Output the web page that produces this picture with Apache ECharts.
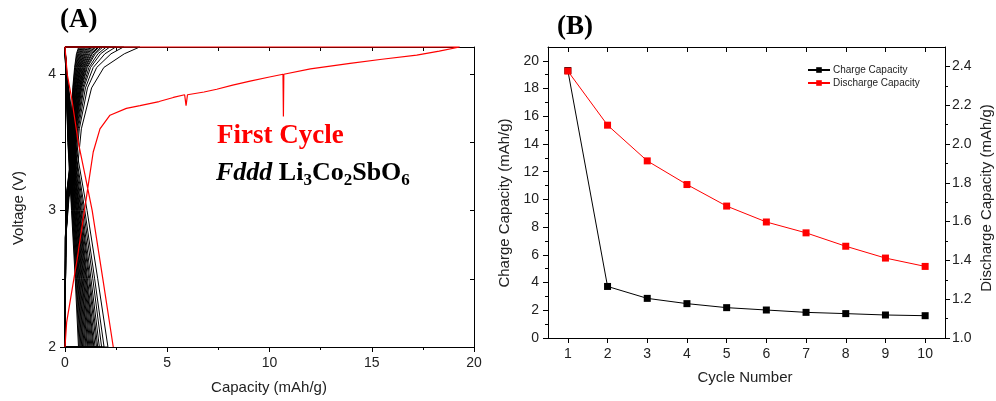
<!DOCTYPE html>
<html>
<head>
<meta charset="utf-8">
<script src="https://cdn.jsdelivr.net/npm/echarts@6/dist/echarts.min.js"></script>
<style>
  html, body { margin: 0; padding: 0; background: #fff; }
  #chart { width: 996px; height: 401px; }
</style>
</head>
<body>
<div id="chart"></div>
<script>
// ---------- Panel A: voltage profiles ----------
// First cycle, charge then discharge (capacity in mAh/g, voltage in V)
const firstChargeCap  = [0, 0.08, 0.6, 1.12, 1.38, 1.71, 2.2, 3.0, 3.67, 4.6, 5.3, 5.85, 5.92, 5.99, 6.8, 7.42, 8.2, 9.05, 10.0, 10.66, 10.68, 10.70, 12.0, 13.94, 15.5, 17.2, 18.3, 19.3];
const firstChargeVolt = [2.0, 2.18, 2.65, 3.17, 3.43, 3.60, 3.70, 3.75, 3.77, 3.80, 3.83, 3.85, 3.77, 3.85, 3.87, 3.89, 3.92, 3.95, 3.98, 4.0, 3.69, 4.0, 4.04, 4.08, 4.11, 4.14, 4.17, 4.2];
const firstDischargeCap  = [0, 0.11, 0.33, 0.65, 0.98, 1.33, 1.85, 2.36];
const firstDischargeVolt = [4.2, 4.0, 3.82, 3.5, 3.26, 3.0, 2.5, 2.0];

// Later cycles (2 to 26): capacity reached at each voltage level
const chargeVolt = [2.0, 2.8, 3.1, 3.3, 3.6, 3.9, 4.05, 4.15, 4.2];
const chargeCapByCycle = [
  [0, 0.04, 0.20, 0.60, 0.80, 1.30, 1.90, 2.90, 3.65],
  [0, 0.04, 0.18, 0.52, 0.70, 1.10, 1.55, 2.25, 2.86],
  [0, 0.04, 0.17, 0.48, 0.65, 1.00, 1.38, 1.95, 2.48],
  [0, 0.04, 0.16, 0.45, 0.61, 0.92, 1.25, 1.74, 2.19],
  [0, 0.04, 0.15, 0.43, 0.58, 0.87, 1.17, 1.61, 2.02],
  [0, 0.04, 0.15, 0.41, 0.55, 0.82, 1.09, 1.48, 1.85],
  [0, 0.04, 0.14, 0.40, 0.53, 0.79, 1.05, 1.41, 1.76],
  [0, 0.04, 0.14, 0.38, 0.51, 0.76, 1.00, 1.33, 1.66],
  [0, 0.04, 0.13, 0.37, 0.50, 0.74, 0.97, 1.29, 1.61],
  [0, 0.04, 0.13, 0.36, 0.48, 0.71, 0.93, 1.22, 1.52],
  [0, 0.03, 0.12, 0.35, 0.47, 0.69, 0.90, 1.17, 1.45],
  [0, 0.03, 0.12, 0.34, 0.45, 0.66, 0.86, 1.11, 1.38],
  [0, 0.03, 0.11, 0.33, 0.44, 0.64, 0.83, 1.06, 1.31],
  [0, 0.03, 0.11, 0.32, 0.42, 0.61, 0.79, 1.01, 1.25],
  [0, 0.03, 0.10, 0.31, 0.41, 0.59, 0.76, 0.97, 1.19],
  [0, 0.03, 0.10, 0.30, 0.39, 0.57, 0.73, 0.92, 1.13],
  [0, 0.03, 0.09, 0.29, 0.38, 0.55, 0.70, 0.88, 1.07],
  [0, 0.03, 0.09, 0.28, 0.36, 0.52, 0.67, 0.83, 1.01],
  [0, 0.02, 0.08, 0.27, 0.35, 0.50, 0.64, 0.79, 0.96],
  [0, 0.02, 0.08, 0.26, 0.34, 0.48, 0.61, 0.75, 0.91],
  [0, 0.02, 0.07, 0.25, 0.32, 0.46, 0.58, 0.71, 0.86],
  [0, 0.02, 0.07, 0.24, 0.31, 0.44, 0.55, 0.67, 0.81],
  [0, 0.02, 0.06, 0.23, 0.30, 0.42, 0.52, 0.63, 0.76],
  [0, 0.02, 0.06, 0.22, 0.29, 0.40, 0.49, 0.59, 0.71],
  [0, 0.02, 0.06, 0.21, 0.28, 0.38, 0.47, 0.56, 0.67]
];
const dischargeVolt = [4.2, 4.0, 3.5, 3.0, 2.5, 2.0];
const dischargeCapByCycle = [
  [0, 0.10, 0.50, 1.08, 1.60, 2.10],
  [0, 0.09, 0.45, 0.97, 1.45, 1.91],
  [0, 0.09, 0.42, 0.91, 1.36, 1.79],
  [0, 0.08, 0.39, 0.85, 1.27, 1.68],
  [0, 0.08, 0.37, 0.80, 1.21, 1.60],
  [0, 0.08, 0.35, 0.77, 1.16, 1.54],
  [0, 0.07, 0.33, 0.73, 1.10, 1.47],
  [0, 0.07, 0.32, 0.70, 1.06, 1.41],
  [0, 0.07, 0.31, 0.68, 1.03, 1.37],
  [0, 0.07, 0.30, 0.65, 0.99, 1.32],
  [0, 0.06, 0.28, 0.62, 0.95, 1.27],
  [0, 0.06, 0.27, 0.60, 0.91, 1.22],
  [0, 0.06, 0.26, 0.57, 0.88, 1.17],
  [0, 0.06, 0.25, 0.55, 0.84, 1.12],
  [0, 0.06, 0.24, 0.53, 0.81, 1.08],
  [0, 0.05, 0.23, 0.50, 0.78, 1.03],
  [0, 0.05, 0.22, 0.48, 0.74, 0.99],
  [0, 0.05, 0.21, 0.46, 0.71, 0.94],
  [0, 0.05, 0.20, 0.44, 0.68, 0.90],
  [0, 0.05, 0.19, 0.42, 0.65, 0.86],
  [0, 0.04, 0.18, 0.40, 0.62, 0.82],
  [0, 0.04, 0.17, 0.38, 0.59, 0.78],
  [0, 0.04, 0.16, 0.36, 0.56, 0.74],
  [0, 0.04, 0.15, 0.34, 0.53, 0.70],
  [0, 0.04, 0.14, 0.32, 0.50, 0.66]
];

// Panel A tick marks
const capTicks = [0, 5, 10, 15, 20];
const voltTicks = [2, 3, 4];
const voltInnerTicks = [2, 2.5, 3, 3.5, 4];

// ---------- Panel B: capacity per cycle ----------
const cycleNumbers = [1, 2, 3, 4, 5, 6, 7, 8, 9, 10];
const chargeCapacity = [19.3, 3.72, 2.86, 2.48, 2.19, 2.02, 1.85, 1.76, 1.66, 1.61];
const dischargeCapacity = [2.376, 2.097, 1.913, 1.791, 1.680, 1.598, 1.542, 1.473, 1.412, 1.369];

const chargeTicks = [0, 2, 4, 6, 8, 10, 12, 14, 16, 18, 20];
const dischargeTicks = [1.0, 1.2, 1.4, 1.6, 1.8, 2.0, 2.2, 2.4];

// ---------- styling ----------
const SANS = 'Liberation Sans';
const SERIF = 'Liberation Serif';
const INK = '#000';
const RED = '#ff0000';
const labelStyle = { fontFamily: SANS, fontSize: 14, color: '#222' };

function zip(xs, ys) { return xs.map((x, i) => [x, ys[i]]); }

// one path per cycle: charge, discharge, then back to the cycle's start
const cycleSeries = chargeCapByCycle.map((caps, i) => {
  const pts = zip(caps, chargeVolt).concat(zip(dischargeCapByCycle[i], dischargeVolt));
  pts.push(pts[0]);
  return {
    name: 'cycle ' + (i + 2), type: 'line', xAxisIndex: 0, yAxisIndex: 0,
    data: pts, showSymbol: false, clip: false, silent: true,
    lineStyle: { color: INK, width: 1 }, itemStyle: { color: INK }
  };
});

const firstCycle = {
  name: 'first cycle', type: 'line', xAxisIndex: 0, yAxisIndex: 0,
  data: zip(firstChargeCap, firstChargeVolt).concat(zip(firstDischargeCap, firstDischargeVolt)),
  showSymbol: false, clip: false, silent: true,
  lineStyle: { color: RED, width: 1.2 }, itemStyle: { color: RED }
};

function frameAxis(o) {
  return Object.assign({
    type: 'value',
    splitLine: { show: false },
    minorSplitLine: { show: false },
    axisLine: { show: true, onZero: false, lineStyle: { color: INK, width: 1 } },
    axisTick: { show: false },
    axisLabel: { show: false }
  }, o);
}

const option = {
  animation: false,
  backgroundColor: '#fff',
  grid: [
    { left: 65, top: 47, width: 409, height: 300 },
    { left: 548, top: 47, width: 397, height: 291 }
  ],
  xAxis: [
    frameAxis({
      gridIndex: 0, position: 'bottom', min: 0, max: 20, interval: 5,
      axisTick: { show: true, length: 5, lineStyle: { color: INK } },
      minorTick: { show: true, splitNumber: 2, length: 3, lineStyle: { color: INK } },
      axisLabel: Object.assign({ show: true, margin: 9, customValues: capTicks }, labelStyle)
    }),
    frameAxis({
      gridIndex: 0, position: 'top', min: 0, max: 20, interval: 2.5,
      axisTick: { show: true, inside: true, length: 4, lineStyle: { color: INK } }
    }),
    frameAxis({
      gridIndex: 1, position: 'bottom', min: 0.5, max: 10.5,
      axisTick: { show: true, length: 5, customValues: cycleNumbers, lineStyle: { color: INK } },
      axisLabel: Object.assign({ show: true, margin: 9, customValues: cycleNumbers }, labelStyle)
    }),
    frameAxis({
      gridIndex: 1, position: 'top', min: 0.5, max: 10.5,
      axisTick: { show: true, inside: true, length: 5, customValues: cycleNumbers, lineStyle: { color: INK } }
    })
  ],
  yAxis: [
    frameAxis({
      gridIndex: 0, position: 'left', min: 2, max: 4.2, interval: 1,
      axisTick: { show: true, length: 5, customValues: voltTicks, lineStyle: { color: INK } },
      minorTick: { show: true, splitNumber: 2, length: 3, lineStyle: { color: INK } },
      axisLabel: Object.assign({ show: true, margin: 9, customValues: voltTicks }, labelStyle)
    }),
    frameAxis({
      gridIndex: 0, position: 'right', min: 2, max: 4.2,
      axisTick: { show: true, inside: true, length: 4, customValues: voltInnerTicks, lineStyle: { color: INK } }
    }),
    frameAxis({
      gridIndex: 1, position: 'left', min: 0, max: 21, interval: 2,
      axisTick: { show: true, length: 5, customValues: chargeTicks, lineStyle: { color: INK } },
      minorTick: { show: true, splitNumber: 2, length: 3, lineStyle: { color: INK } },
      axisLabel: Object.assign({ show: true, margin: 9, customValues: chargeTicks }, labelStyle)
    }),
    frameAxis({
      gridIndex: 1, position: 'right', min: 1, max: 2.5, interval: 0.2,
      axisTick: { show: true, length: 5, customValues: dischargeTicks, lineStyle: { color: INK } },
      minorTick: { show: true, splitNumber: 2, length: 3, lineStyle: { color: INK } },
      axisLabel: Object.assign({
        show: true, margin: 7, customValues: dischargeTicks,
        formatter: v => Number(v).toFixed(1)
      }, labelStyle)
    })
  ],
  legend: {
    data: ['Charge Capacity', 'Discharge Capacity'],
    orient: 'vertical', left: 802, top: 60,
    itemWidth: 22, itemHeight: 7, itemGap: 3,
    selectedMode: false,
    textStyle: { fontFamily: SANS, fontSize: 10, color: '#222', padding: [0, 0, 0, -2] }
  },
  series: cycleSeries.concat([
    firstCycle,
    {
      name: 'Charge Capacity', type: 'line', xAxisIndex: 2, yAxisIndex: 2,
      data: zip(cycleNumbers, chargeCapacity),
      symbol: 'rect', symbolSize: 7, clip: false,
      lineStyle: { color: INK, width: 1 }, itemStyle: { color: INK }
    },
    {
      name: 'Discharge Capacity', type: 'line', xAxisIndex: 2, yAxisIndex: 3,
      data: zip(cycleNumbers, dischargeCapacity),
      symbol: 'rect', symbolSize: 7, clip: false,
      lineStyle: { color: RED, width: 1 }, itemStyle: { color: RED }
    }
  ]),
  graphic: [
    { type: 'text', x: 60, y: 7, style: { text: '(A)', font: 'bold 27px "Liberation Serif"', fill: INK } },
    { type: 'text', x: 557, y: 14, style: { text: '(B)', font: 'bold 27px "Liberation Serif"', fill: INK } },
    { type: 'text', x: 217, y: 123, style: { text: 'First Cycle', font: 'bold 27px "Liberation Serif"', fill: RED } },
    {
      type: 'text', x: 216, y: 157,
      style: {
        text: '{i|Fddd} {b|Li}{s|3}{b|Co}{s|2}{b|SbO}{s|6}',
        font: 'bold 26px "Liberation Serif"', fill: INK,
        rich: {
          i: { fontFamily: SERIF, fontWeight: 'bold', fontStyle: 'italic', fontSize: 26, lineHeight: 32, verticalAlign: 'middle', fill: INK },
          b: { fontFamily: SERIF, fontWeight: 'bold', fontSize: 26, lineHeight: 32, verticalAlign: 'middle', fill: INK },
          s: { fontFamily: SERIF, fontWeight: 'bold', fontSize: 17, lineHeight: 17, verticalAlign: 'bottom', fill: INK }
        }
      }
    },
    { type: 'text', x: 19, y: 208, rotation: Math.PI / 2,
      style: { text: 'Voltage (V)', font: '15px "Liberation Sans"', fill: '#222', align: 'center', verticalAlign: 'middle' } },
    { type: 'text', x: 269, y: 388,
      style: { text: 'Capacity (mAh/g)', font: '15px "Liberation Sans"', fill: '#222', align: 'center', verticalAlign: 'middle' } },
    { type: 'text', x: 505, y: 203, rotation: Math.PI / 2,
      style: { text: 'Charge Capacity (mAh/g)', font: '15px "Liberation Sans"', fill: '#222', align: 'center', verticalAlign: 'middle' } },
    { type: 'text', x: 745, y: 378,
      style: { text: 'Cycle Number', font: '15px "Liberation Sans"', fill: '#222', align: 'center', verticalAlign: 'middle' } },
    { type: 'text', x: 987, y: 198, rotation: Math.PI / 2,
      style: { text: 'Discharge Capacity (mAh/g)', font: '15px "Liberation Sans"', fill: '#222', align: 'center', verticalAlign: 'middle' } }
  ]
};

const chart = echarts.init(document.getElementById('chart'), null, { renderer: 'canvas' });
chart.setOption(option);
</script>
</body>
</html>
